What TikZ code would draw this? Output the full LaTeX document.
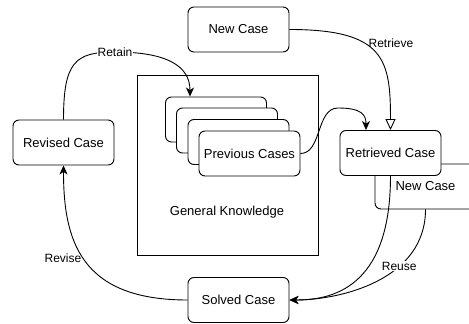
\documentclass[tikz,border=0pt]{standalone}
\usepackage{fontspec}
\setmainfont{Liberation Sans}
\usetikzlibrary{arrows.meta}

\begin{document}
\begin{tikzpicture}[x=1pt,y=-1pt,
  casebox/.style={draw, line width=0.9pt, rounded corners=6pt, fill=white, minimum width=101pt, minimum height=45pt, inner sep=0pt, font=\fontsize{13}{15}\selectfont},
  lbl/.style={fill=white, inner sep=1pt, font=\fontsize{12}{14}\selectfont},
  flow/.style={-{Stealth[length=9pt,width=8pt,inset=2.5pt]}, line width=0.9pt}]

\clip (0,0) rectangle (469,324);

% knowledge base
\node[draw, line width=0.9pt, minimum width=181pt, minimum height=180pt, inner sep=0pt] (knowledge) at (227.5,165) {};
\node[font=\fontsize{13}{15}\selectfont] (knowledgetext) at (227,212) {General Knowledge};

\node[casebox] (previous1) at (216,119.5) {};
\node[casebox] (previous2) at (227,130.5) {};
\node[casebox] (previous3) at (238.5,142) {};
\node[casebox] (previous4) at (249.5,153.5) {Previous Cases};

% the cases
\node[casebox] (newcase) at (238.5,29.5) {New Case};
\node[casebox] (revised) at (63.5,142.5) {Revised Case};
\node[casebox] (newcaseback) at (425.5,186.5) {New Case};
\node[casebox] (retrieved) at (390.5,153) {Retrieved Case};
\node[casebox] (solved) at (238.5,300) {Solved Case};

% retain
\draw[flow] (revised.north) .. controls (63.5,62) and (75,52) .. (115,52) node[lbl] {Retain}
  .. controls (165,52) and (190,65) .. ([xshift=-26pt]previous1.north);

% retrieve
\draw[-{Triangle[open,length=11pt,width=10pt]}, line width=0.9pt] (newcase.east) .. controls (385,29.5) and (390.5,60) .. (retrieved.north);
\node[font=\fontsize{12}{14}\selectfont] (retrievelabel) at (391,43) {Retrieve};

\draw[flow] (previous4.east) .. controls (322,153.5) and (316,108) .. (338,108)
  .. controls (362,108) and (366,115) .. ([xshift=-24.5pt]retrieved.north);

% reuse
\draw[flow] (retrieved.south) .. controls (390.5,290) and (330,300) .. (solved.east);
\draw[flow] (newcaseback.south) .. controls (425.5,280) and (340,300) .. (solved.east) node[lbl, pos=0.35] {Reuse};

% revise
\draw[flow] (solved.west) .. controls (80,300) and (63.5,240) .. (revised.south);
\node[font=\fontsize{12}{14}\selectfont] (reviselabel) at (63,258) {Revise};

\end{tikzpicture}
\end{document}
